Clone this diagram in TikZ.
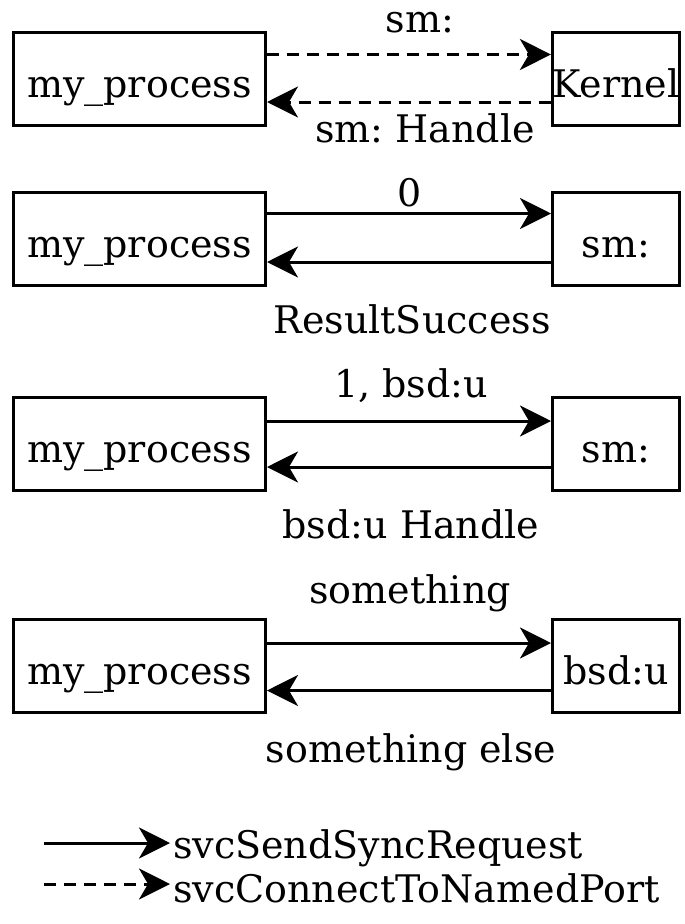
\documentclass[tikz,border=0pt]{standalone}
\usepackage{fontspec}
\setmainfont{DejaVu Serif}
\frenchspacing
\usetikzlibrary{arrows.meta}

\tikzset{
	box/.style={draw, line width=3pt, inner sep=0pt, minimum height=93pt,
		text height=37pt, text depth=0pt},
	proc/.style={box, minimum width=252pt},
	srv/.style={box, minimum width=127pt},
	req/.style={line width=3pt, -{Stealth[length=31pt, width=31pt, inset=9pt]}},
	conn/.style={req, dash pattern=on 12pt off 8pt},
	lbl/.style={anchor=base, inner sep=0pt},
}

\begin{document}
\begin{tikzpicture}[x=1pt, y=-1pt, every node/.style={font=\fontsize{38}{46}\selectfont}]
	\useasboundingbox (0,0) rectangle (685,924);
	
	% Verbindung zum Kernel
	\node[proc] (p1) at (139.5,78.5) {my\_process};
	\node[srv] (k1) at (616,78.5) {Kernel};
	\draw[conn] ([yshift=24pt]p1.east) -- ([yshift=24pt]k1.west);
	\draw[conn] ([yshift=-23.5pt]k1.west) -- ([yshift=-23.5pt]p1.east);
	\node[lbl] (l1a) at (420,32) {sm:};
	\node[lbl] (l1b) at (425,142) {sm: Handle};
	
	% Initialisierung sm:
	\node[proc] (p2) at (139.5,238.5) {my\_process};
	\node[srv] (s2) at (616,238.5) {sm:};
	\draw[req] ([yshift=25pt]p2.east) -- ([yshift=25pt]s2.west);
	\draw[req] ([yshift=-23.5pt]s2.west) -- ([yshift=-23.5pt]p2.east);
	\node[lbl] (l2a) at (410,206) {0};
	\node[lbl] (l2b) at (412,333) {ResultSuccess};
	
	% Dienst anfordern
	\node[proc] (p3) at (139.5,443.5) {my\_process};
	\node[srv] (s3) at (616,443.5) {sm:};
	\draw[req] ([yshift=22.5pt]p3.east) -- ([yshift=22.5pt]s3.west);
	\draw[req] ([yshift=-23.5pt]s3.west) -- ([yshift=-23.5pt]p3.east);
	\node[lbl] (l3a) at (411,397) {1, bsd:u};
	\node[lbl] (l3b) at (411,538) {bsd:u Handle};
	
	% Dienst benutzen
	\node[proc] (p4) at (139.5,665.5) {my\_process};
	\node[srv] (b4) at (616,665.5) {bsd:u};
	\draw[req] ([yshift=22.5pt]p4.east) -- ([yshift=22.5pt]b4.west);
	\draw[req] ([yshift=-25pt]b4.west) -- ([yshift=-25pt]p4.east);
	\node[lbl] (l4a) at (410,603) {something};
	\node[lbl] (l4b) at (411,762) {something else};
	
	% Legende
	\node[lbl, anchor=base west] (ls) at (173,858) {svcSendSyncRequest};
	\node[lbl, anchor=base west] (lc) at (173,902) {svcConnectToNamedPort};
	\coordinate (s0) at (44,843);
	\coordinate (c0) at (44,884);
	\draw[req] (s0) -- ([xshift=-3pt]s0 -| ls.west);
	\draw[conn] (c0) -- ([xshift=-3pt]c0 -| lc.west);
\end{tikzpicture}
\end{document}
